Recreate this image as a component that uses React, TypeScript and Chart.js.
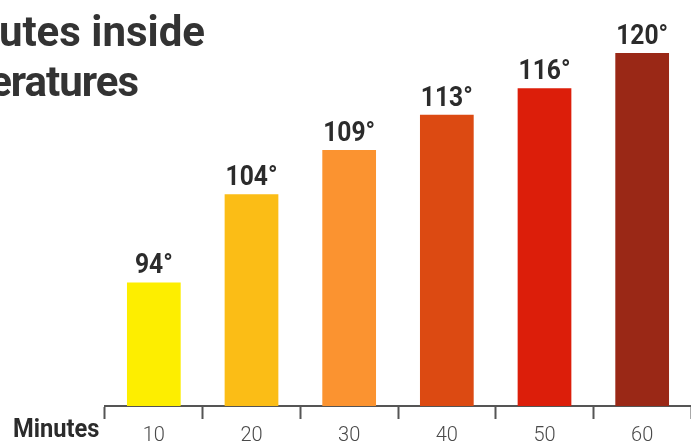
import React, { useEffect, useRef } from "react";
import { Chart, registerables } from "chart.js";

Chart.register(...registerables);

const minutes = ["10", "20", "30", "40", "50", "60"];
const temperatures = [94, 104, 109, 113, 116, 120];
const barColors = ["#fdee00", "#fbbd16", "#fb9330", "#dc4a12", "#dc1e0a", "#9a2816"];
const titleLine1 = "minutes inside";
const titleLine2 = "temperatures";
const axisLabel = "Minutes";

const FAMILY = "Roboto, sans-serif";

function stretchSupported(): boolean {
  try {
    const c = document.createElement("canvas").getContext("2d");
    if (!c) return false;
    c.font = "300 40px Roboto";
    const a = c.measureText("1020304050").width;
    c.font = "condensed 300 40px Roboto";
    const ok = c.font.indexOf("condensed") >= 0;
    const b = c.measureText("1020304050").width;
    return ok && b < a * 0.97;
  } catch (e) {
    return false;
  }
}

function drawNarrow(ctx: any, text: string, x: number, y: number, font: string, sx: number, align: string) {
  ctx.save();
  ctx.font = font;
  ctx.textAlign = align;
  ctx.textBaseline = "alphabetic";
  ctx.translate(x, y);
  ctx.scale(sx, 1);
  ctx.fillText(text, 0, 0);
  ctx.restore();
}

const valueLabels = {
  id: "valueLabels",
  afterDatasetsDraw(chart: any) {
    const ctx = chart.ctx;
    const meta = chart.getDatasetMeta(0);
    ctx.save();
    ctx.fillStyle = "#2b2b2b";
    meta.data.forEach((bar: any, i: number) => {
      drawNarrow(ctx, `${temperatures[i]}°`, bar.x, bar.y - 9, `bold 28px ${FAMILY}`, 0.88, "center");
    });
    ctx.restore();
  },
};

const axisTitle = {
  id: "axisTitle",
  afterDraw(chart: any) {
    const ctx = chart.ctx;
    ctx.save();
    ctx.fillStyle = "#2b2b2b";
    drawNarrow(ctx, axisLabel, 13, 437, `bold 26px ${FAMILY}`, 0.91, "left");
    ctx.restore();
  },
};

export default function App() {
  const ref = useRef<HTMLCanvasElement | null>(null);

  useEffect(() => {
    if (!ref.current) return;
    const condensed = stretchSupported();
    const chart = new Chart(ref.current, {
      type: "bar",
      data: {
        labels: minutes,
        datasets: [
          {
            data: temperatures,
            backgroundColor: barColors,
            borderWidth: 0,
            categoryPercentage: 1,
            barPercentage: 0.55,
          },
        ],
      },
      options: {
        animation: false,
        responsive: true,
        maintainAspectRatio: false,
        layout: { padding: { left: 105, right: 0, top: 53, bottom: 0 } },
        plugins: {
          legend: { display: false },
          tooltip: { enabled: false },
          title: { display: false },
        },
        scales: {
          y: {
            display: false,
            min: 80,
            max: 120,
          },
          x: {
            afterFit: (scale: any) => {
              scale.height = 35;
            },
            grid: {
              display: true,
              drawOnChartArea: false,
              drawTicks: true,
              tickLength: 13,
              tickColor: "#555555",
              tickWidth: 2,
            },
            border: { display: true, color: "#555555", width: 2 },
            ticks: {
              color: "#4a4a4a",
              padding: 9,
              font: {
                family: FAMILY,
                size: 20,
                lineHeight: 0.8,
                weight: (condensed ? "condensed 300" : "300") as any,
              },
            },
          },
        },
      },
      plugins: [valueLabels, axisTitle],
    });
    return () => chart.destroy();
  }, []);

  const titleStyle: React.CSSProperties = {
    position: "absolute",
    whiteSpace: "nowrap",
    fontFamily: "Roboto, sans-serif",
    fontWeight: 700,
    fontSize: 42,
    lineHeight: "42px",
    color: "#333333",
  };

  return (
    <div
      style={{
        position: "fixed",
        left: 0,
        top: 0,
        width: 691,
        height: 441,
        overflow: "hidden",
        background: "#ffffff",
      }}
    >
      <canvas ref={ref} />
      <div style={{ ...titleStyle, right: 691 - 205, top: 11 }}>{titleLine1}</div>
      <div style={{ ...titleStyle, right: 691 - 138, top: 61, letterSpacing: -1 }}>{titleLine2}</div>
    </div>
  );
}
